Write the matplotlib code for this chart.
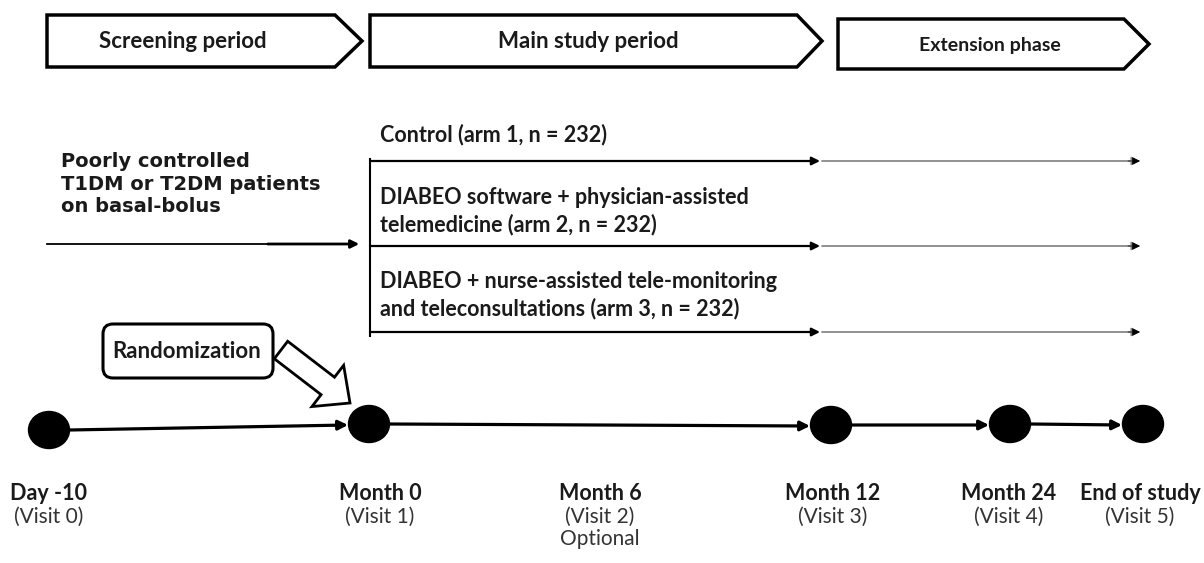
import matplotlib
matplotlib.use("Agg")
import matplotlib.pyplot as plt
from matplotlib.patches import Polygon, Ellipse, FancyBboxPatch, FancyArrow

# Textos do diagrama
fases = ["Screening period", "Main study period", "Extension phase"]
bracos = ["Control (arm 1, n = 232)",
          "DIABEO software + physician-assisted\ntelemedicine (arm 2, n = 232)",
          "DIABEO + nurse-assisted tele-monitoring\nand teleconsultations (arm 3, n = 232)"]
pacientes = "Poorly controlled\nT1DM or T2DM patients\non basal-bolus"
randomizacao = "Randomization"
visitas = ["Day -10", "Month 0", "Month 6", "Month 12", "Month 24", "End of study"]
num_visitas = ["(Visit 0)", "(Visit 1)", "(Visit 2)", "(Visit 3)", "(Visit 4)", "(Visit 5)"]
notas_visitas = ["", "", "Optional", "", "", ""]
tem_marcador = [True, True, False, True, True, True]

# Layout (coordenadas em pixels da figura)
fase_x = [(47, 335, 362, 15, 67), (370, 797, 822, 15, 67), (838, 1124, 1149, 19, 69)]
fase_txt_x = [183, 588, 990]
fase_tam = [16, 16, 14]
braco_y = [161, 246, 332]
braco_txt_y = [135, 211, 295]
marcador_x = [49, 369, None, 831, 1010, 1143]
marcador_y = [430, 424, None, 425, 424, 424]
rotulo_x = [49, 380, 600, 833, 1009, 1140]

fonte = "Lato"

fig = plt.figure(figsize=(12.04, 5.63), dpi=100)
ax = fig.add_axes([0, 0, 1, 1])
ax.set_xlim(0, 1204)
ax.set_ylim(563, 0)
ax.axis("off")

# Setas das fases no topo
for nome, (x0, xb, xt, top, bot), tx, tam in zip(fases, fase_x, fase_txt_x, fase_tam):
    cy = (top + bot) / 2
    ax.add_patch(Polygon([(x0, top), (xb, top), (xt, cy), (xb, bot), (x0, bot)],
                         closed=True, fc="white", ec="black", lw=2.5, joinstyle="miter"))
    ax.text(tx, cy + 1, nome, ha="center", va="center", fontsize=tam,
            fontweight="bold", family=fonte, color="#1a1a1a")

# Pacientes
ax.text(61, 184, pacientes, ha="left", va="center", fontsize=14,
        fontweight="bold", family="DejaVu Sans", color="#1a1a1a", linespacing=1.22)
ax.plot([47, 300], [244, 244], color="black", lw=1.3)
ax.annotate("", xy=(362, 244), xytext=(265, 244),
            arrowprops=dict(arrowstyle="-|>", color="black", lw=2, mutation_scale=12))

# Braços do estudo
ax.plot([370, 370], [159, 336], color="black", lw=1.5)
for y, ty, txt in zip(braco_y, braco_txt_y, bracos):
    ax.text(380, ty, txt, ha="left", va="center", fontsize=15.5, fontweight="bold",
            family=fonte, color="#1a1a1a", linespacing=1.3)
    ax.annotate("", xy=(820, y), xytext=(370, y),
                arrowprops=dict(arrowstyle="-|>", color="black", lw=1.6,
                                mutation_scale=12, shrinkA=0, shrinkB=0))
    ax.annotate("", xy=(1140, y), xytext=(822, y),
                arrowprops=dict(arrowstyle="-|>", color="#888888", lw=1.3,
                                mutation_scale=12, shrinkA=0, shrinkB=0))
    ax.annotate("", xy=(1140, y), xytext=(1128, y),
                arrowprops=dict(arrowstyle="-|>", color="black", lw=0.5,
                                mutation_scale=12, shrinkA=0, shrinkB=0))

# Randomização
ax.add_patch(FancyArrow(281, 350, 69, 53, width=22, head_width=52, head_length=28,
                        length_includes_head=True, fc="white", ec="black", lw=2, zorder=2))
ax.add_patch(FancyBboxPatch((110, 331), 156, 40, boxstyle="round,pad=7,rounding_size=10",
                            fc="white", ec="black", lw=2.2, zorder=3))
ax.text(187, 352, randomizacao, ha="center", va="center", fontsize=16,
        fontweight="bold", family=fonte, color="#1a1a1a", zorder=4)

# Linha do tempo
pontos = [(x, y) for x, y, m in zip(marcador_x, marcador_y, tem_marcador) if m]
for (x1, y1), (x2, y2) in zip(pontos[:-1], pontos[1:]):
    ax.annotate("", xy=(x2 - 21, y2 + 1), xytext=(x1 + 20, y1),
                arrowprops=dict(arrowstyle="-|>", color="black", lw=2.3,
                                mutation_scale=14, shrinkA=0, shrinkB=0))
for x, y in pontos:
    ax.add_patch(Ellipse((x, y), 41, 37, fc="black", ec="black", zorder=5))

for x, nome, num, nota in zip(rotulo_x, visitas, num_visitas, notas_visitas):
    ax.text(x, 494, nome, ha="center", va="center", fontsize=15.5, fontweight="bold",
            family=fonte, color="#1a1a1a")
    ax.text(x, 517, num, ha="center", va="center", fontsize=15, family=fonte,
            color="#333333")
    if nota:
        ax.text(x, 539, nota, ha="center", va="center", fontsize=15, family=fonte,
                color="#333333")

fig.savefig("out.png", dpi=100)
